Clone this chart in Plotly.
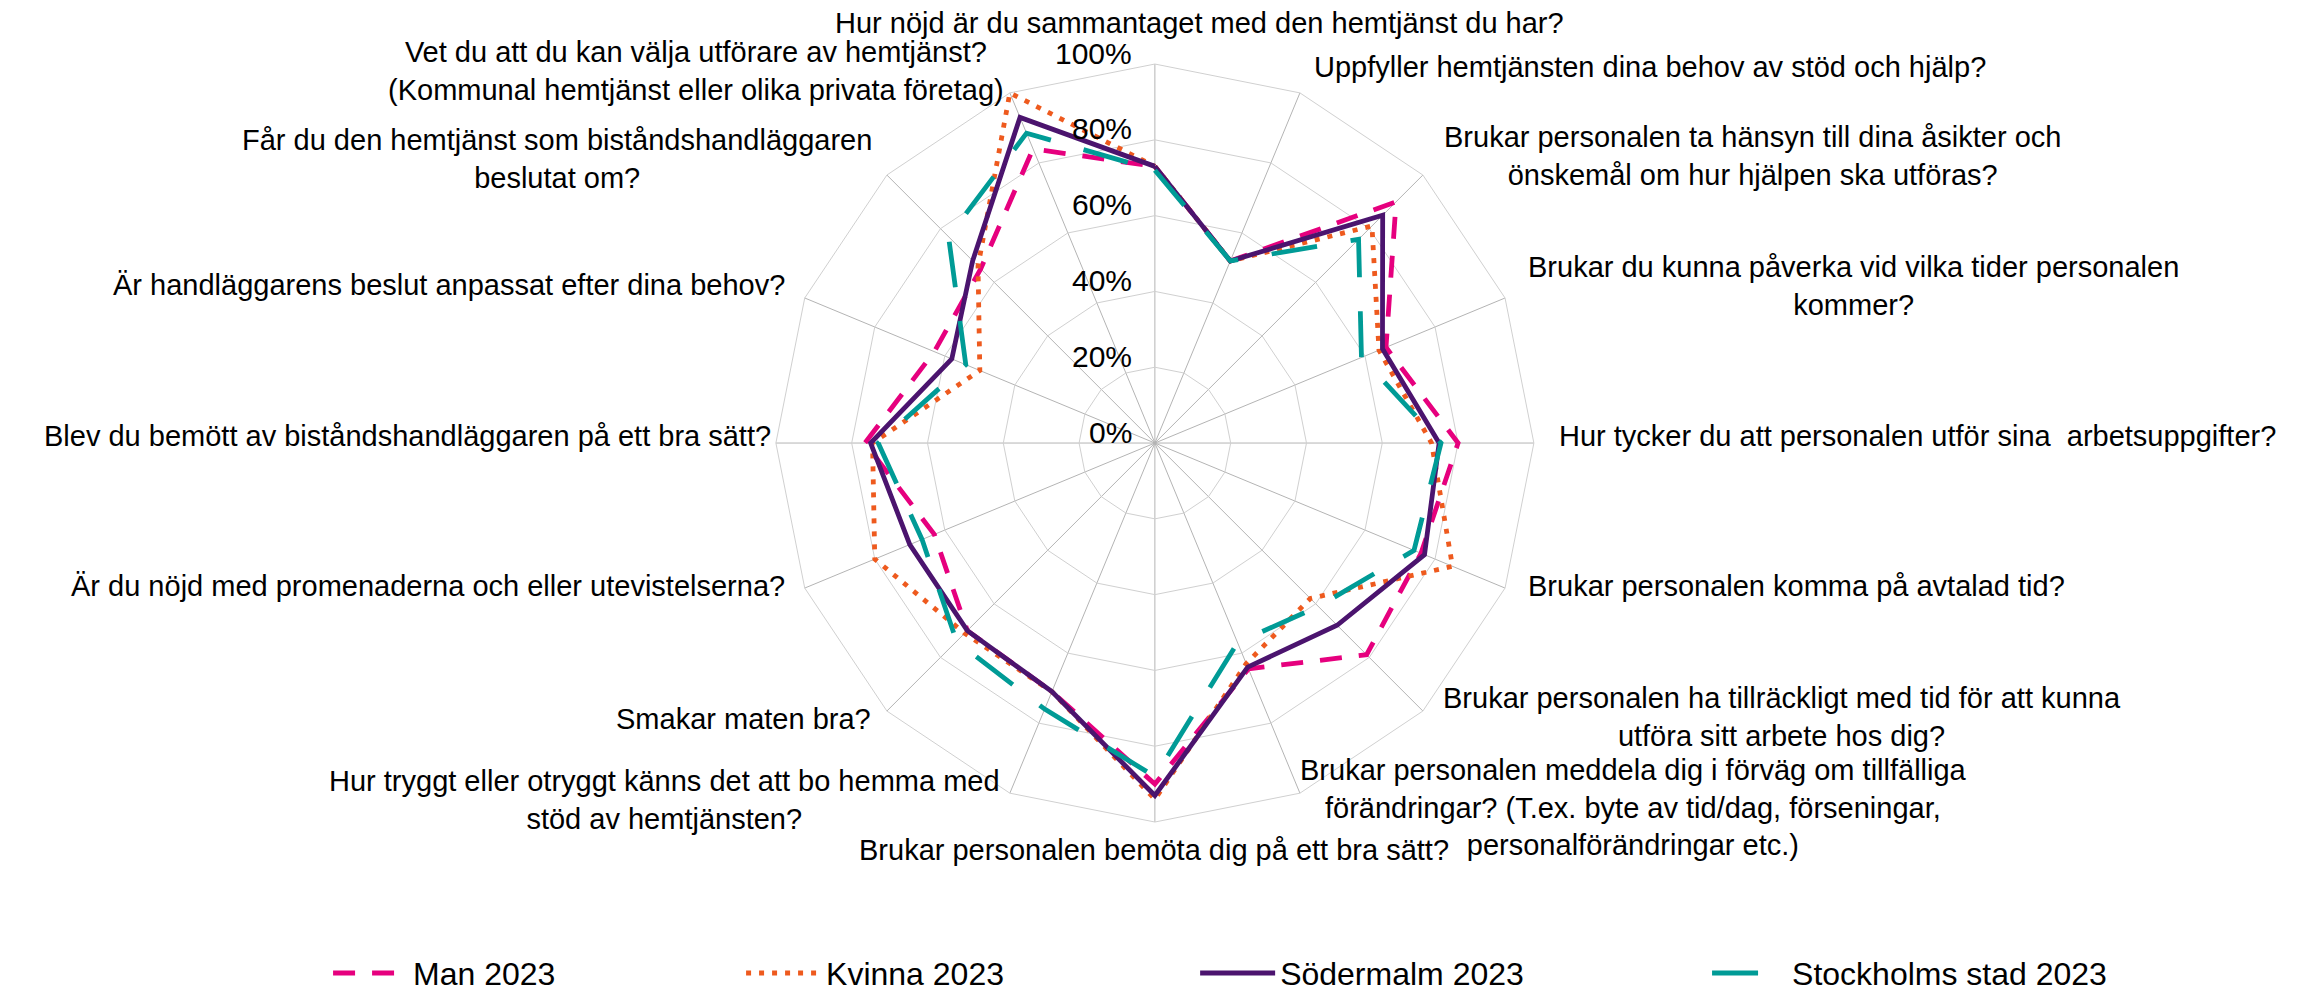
import plotly.graph_objects as go

categories = [
    "Hur nöjd är du sammantaget med den hemtjänst du har?",
    "Uppfyller hemtjänsten dina behov av stöd och hjälp?",
    "Brukar personalen ta hänsyn till dina åsikter och<br>önskemål om hur hjälpen ska utföras?",
    "Brukar du kunna påverka vid vilka tider personalen<br>kommer?",
    "Hur tycker du att personalen utför sina  arbetsuppgifter?",
    "Brukar personalen komma på avtalad tid?",
    "Brukar personalen ha tillräckligt med tid för att kunna<br>utföra sitt arbete hos dig?",
    "Brukar personalen meddela dig i förväg om tillfälliga<br>förändringar? (T.ex. byte av tid/dag, förseningar,<br>personalförändringar etc.)",
    "Brukar personalen bemöta dig på ett bra sätt?",
    "Hur tryggt eller otryggt känns det att bo hemma med<br>stöd av hemtjänsten?",
    "Smakar maten bra?",
    "Är du nöjd med promenaderna och eller utevistelserna?",
    "Blev du bemött av biståndshandläggaren på ett bra sätt?",
    "Är handläggarens beslut anpassat efter dina behov?",
    "Får du den hemtjänst som biståndshandläggaren<br>beslutat om?",
    "Vet du att du kan välja utförare av hemtjänst?<br>(Kommunal hemtjänst eller olika privata företag)",
]

man_2023 = [0.73, 0.52, 0.90, 0.66, 0.80, 0.76, 0.79, 0.645, 0.90, 0.71, 0.70, 0.63, 0.765, 0.63, 0.65, 0.84]
kvinna_2023 = [0.73, 0.52, 0.81, 0.64, 0.73, 0.85, 0.58, 0.63, 0.94, 0.71, 0.71, 0.80, 0.745, 0.50, 0.66, 1.00]
sodermalm_2023 = [0.73, 0.52, 0.85, 0.65, 0.75, 0.77, 0.68, 0.64, 0.93, 0.71, 0.70, 0.70, 0.75, 0.58, 0.68, 0.93]
stockholm_2023 = [0.72, 0.52, 0.76, 0.59, 0.755, 0.74, 0.61, 0.57, 0.88, 0.76, 0.74, 0.665, 0.73, 0.54, 0.77, 0.885]

radial_ticks = [0, 0.2, 0.4, 0.6, 0.8, 1.0]

# name, values, colour, dash, legend id, legend x
series = [
    ("Man 2023", man_2023, "#E6007E", "22px,17px", "legend", 0.1388),
    ("Kvinna 2023", kvinna_2023, "#EE5A1E", "5px,8px", "legend2", 0.3179),
    ("Södermalm 2023", sodermalm_2023, "#4B146E", "solid", "legend3", 0.5148),
    ("Stockholms stad 2023", stockholm_2023, "#009B96", "46px,34px", "legend4", 0.7368),
]

# label placement (paper coords): x, y, xanchor
label_pos = [
    (0.5165, 0.9850, "center"),
    (0.5655, 0.9405, "left"),
    (0.7567, 0.8509, "center"),
    (0.8005, 0.7200, "center"),
    (0.6717, 0.5689, "left"),
    (0.6583, 0.4179, "left"),
    (0.7693, 0.2860, "center"),
    (0.7047, 0.1953, "center"),
    (0.4970, 0.1520, "center"),
    (0.2849, 0.2024, "center"),
    (0.3751, 0.2839, "right"),
    (0.3378, 0.4179, "right"),
    (0.3317, 0.5689, "right"),
    (0.3378, 0.7210, "right"),
    (0.2381, 0.8480, "center"),
    (0.2983, 0.9370, "center"),
]

FONT = "Liberation Sans, Arial, sans-serif"
LABEL_SIZE = 29

# polar geometry in paper coordinates
CX0, CX1 = 0.3330, 0.6617
CY0, CY1 = 0.1802, 0.9436
center_y = (CY0 + CY1) / 2
radius_y = (CY1 - CY0) / 2

fig = go.Figure()
for name, vals, color, dash, leg, _ in series:
    fig.add_trace(go.Scatterpolar(
        r=vals + vals[:1],
        theta=categories + categories[:1],
        mode="lines",
        name=name,
        legend=leg,
        line=dict(color=color, width=4.8, dash=dash),
    ))

annotations = []
for text, (x, y, xa) in zip(categories, label_pos):
    annotations.append(dict(
        text=text, x=x, y=y, xref="paper", yref="paper",
        xanchor=xa, yanchor="middle", align="center", showarrow=False,
        font=dict(size=LABEL_SIZE, color="black", family=FONT),
    ))
# radial axis value labels, placed left of the vertical spoke at each ring
for t in radial_ticks:
    annotations.append(dict(
        text=f"{round(t * 100)}%", x=0.4883, y=center_y + t * radius_y + 0.011,
        xref="paper", yref="paper", xanchor="right", yanchor="middle",
        showarrow=False, font=dict(size=30, color="black", family=FONT),
    ))

legend_common = dict(
    orientation="h", y=0.028, xanchor="left", yanchor="middle",
    font=dict(size=32, color="black", family=FONT), itemwidth=75,
    bgcolor="rgba(0,0,0,0)",
)

layout_legends = {}
for _, _, _, _, leg, lx in series:
    layout_legends[leg] = dict(legend_common, x=lx)

fig.update_layout(
    width=2306, height=993,
    margin=dict(l=0, r=0, t=0, b=0),
    paper_bgcolor="white",
    plot_bgcolor="white",
    font=dict(family=FONT, color="black", size=LABEL_SIZE),
    annotations=annotations,
    showlegend=True,
    polar=dict(
        domain=dict(x=[CX0, CX1], y=[CY0, CY1]),
        bgcolor="white",
        gridshape="linear",
        angularaxis=dict(
            rotation=90, direction="clockwise",
            showticklabels=False,
            gridcolor="#B4B4B4", linecolor="#D0D0D0", showline=True,
            ticks="", layer="below traces",
        ),
        radialaxis=dict(
            range=[0, 1], tickvals=radial_ticks,
            showticklabels=False, angle=90,
            showline=False, gridcolor="#D0D0D0", ticks="",
            layer="below traces",
        ),
    ),
    **layout_legends,
)

fig.write_html("out.html")
